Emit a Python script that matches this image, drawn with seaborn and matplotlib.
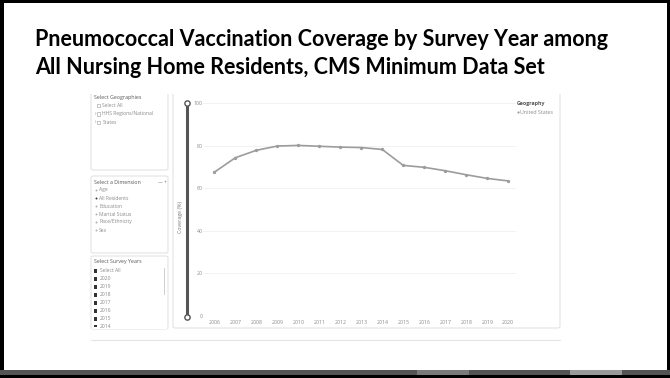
import matplotlib
matplotlib.use("Agg")
import matplotlib.pyplot as plt
from matplotlib.patches import Rectangle, FancyBboxPatch
from matplotlib.lines import Line2D
import seaborn as sns
import pandas as pd

# Survey years and coverage (%) for all nursing home residents, United States
years = [2006, 2007, 2008, 2009, 2010, 2011, 2012, 2013, 2014,
         2015, 2016, 2017, 2018, 2019, 2020]
coverage = [67.6, 74.4, 77.9, 79.9, 80.2, 79.8, 79.4, 79.2, 78.3,
            70.8, 69.9, 68.3, 66.4, 64.7, 63.5]
y_ticks = [0, 20, 40, 60, 80, 100]

title_lines = ["Pneumococcal Vaccination Coverage by Survey Year among",
               "All Nursing Home Residents, CMS Minimum Data Set"]
geo_items = ["Select All", "HHS Regions/National", "States"]
dimension_items = ["Age", "All Residents", "Education", "Marital Status",
                   "Race/Ethnicity", "Sex"]
year_items = ["Select All", "2020", "2019", "2018", "2017", "2016", "2015", "2014"]

df = pd.DataFrame({"Survey Year": years, "Coverage": coverage,
                   "Geography": ["United States"] * len(years)})

sns.set_theme(style="white")
plt.rcParams["font.family"] = ["Open Sans", "DejaVu Sans"]

W, H = 670, 378
fig = plt.figure(figsize=(W / 100, H / 100), dpi=100)
fig.patch.set_facecolor("white")


def fx(px):
    return px / W


def fy(py):
    return 1 - py / H


def rect(x0, y0, x1, y1, color, z=0, **kw):
    fig.patches.append(Rectangle((fx(x0), fy(y1)), fx(x1) - fx(x0), fy(y0) - fy(y1),
                                 transform=fig.transFigure, facecolor=color,
                                 edgecolor="none", zorder=z, **kw))


def panel(x0, y0, x1, y1):
    fig.patches.append(FancyBboxPatch((fx(x0), fy(y1)), fx(x1) - fx(x0), fy(y0) - fy(y1),
                                      boxstyle="round,pad=0,rounding_size=0.004",
                                      transform=fig.transFigure, facecolor="white",
                                      edgecolor="#e3e3e3", linewidth=0.8, zorder=1))


def hline(x0, x1, y, color, lw):
    fig.add_artist(Line2D([fx(x0), fx(x1)], [fy(y), fy(y)], transform=fig.transFigure,
                          color=color, linewidth=lw, zorder=2))


def dot(x, y, size, face, edge="none", ew=0.0, z=4):
    fig.add_artist(Line2D([fx(x)], [fy(y)], transform=fig.transFigure, marker="o",
                          markersize=size, markerfacecolor=face, markeredgecolor=edge,
                          markeredgewidth=ew, linestyle="none", zorder=z))


# Slide frame
rect(0, 0, W, 2.5, "black", z=5)
rect(0, 0, 4, H, "black", z=5)
rect(667, 0, W, H, "black", z=5)
rect(0, 370, W, 375, "#545454", z=5)
rect(417, 370, 469, 375, "#7a7a7a", z=5)
rect(570, 370, 622, 375, "#9a9a9a", z=5)
rect(0, 375, W, H, "black", z=5)

# Slide title
for line, yy in zip(title_lines, (40, 68)):
    fig.text(fx(35), fy(yy), line, fontsize=15.5, fontweight="bold",
             color="black", va="center", ha="left", family=["Lato", "DejaVu Sans"])

# Filter panels and chart card
panel(91, 92, 168, 170)
panel(91, 176, 168, 253)
panel(91, 256, 168, 329)
panel(173, 92, 560, 328)
hline(91, 560, 339.5, "#e4e4e4", 0.8)
# white band hides the panel tops cut by the screenshot
rect(86, 86, 565, 94, "white", z=3)

small = dict(fontsize=3.6, color="#8a8a8a", va="center", ha="left", zorder=4)
fig.text(fx(94), fy(97), "Select Geographies", fontsize=3.8, color="#555555",
         va="center", ha="left", zorder=4)
for i, item in enumerate(geo_items):
    yy = 105.7 + i * 8.3
    if i > 0:
        fig.text(fx(94.5), fy(yy), "›", **small)
    fig.patches.append(Rectangle((fx(97), fy(yy + 1.6)), fx(3.2), 3.2 / H,
                                 transform=fig.transFigure, facecolor="white",
                                 edgecolor="#9a9a9a", linewidth=0.4, zorder=4))
    fig.text(fx(102.5), fy(yy), item, **small)

fig.text(fx(94), fy(182.3), "Select a Dimension", fontsize=3.8, color="#555555",
         va="center", ha="left", zorder=4)
fig.text(fx(157.5), fy(182.3), "— +", fontsize=3.4, color="#777777",
         va="center", ha="left", zorder=4)
for i, item in enumerate(dimension_items):
    yy = 190 + i * 8
    dot(96, yy, 1.4, "#333333" if item == "All Residents" else "#b0b0b0")
    fig.text(fx(99), fy(yy), item, **small)

fig.text(fx(94), fy(261.7), "Select Survey Years", fontsize=3.8, color="#555555",
         va="center", ha="left", zorder=4)
for i, item in enumerate(year_items):
    yy = 271 + i * 8
    fig.patches.append(Rectangle((fx(94), fy(yy + 1.7)), fx(3.4), 3.4 / H,
                                 transform=fig.transFigure, facecolor="#333333",
                                 edgecolor="none", zorder=4))
    fig.text(fx(100), fy(yy), item, **small)
rect(163.5, 267.5, 165, 294.5, "#d0d0d0", z=4)
rect(92, 326.5, 167, 329, "white", z=4)

# Vertical range slider beside the chart
slider_x = 186.7
fig.add_artist(Line2D([fx(slider_x)] * 2, [fy(103), fy(316.5)], transform=fig.transFigure,
                      color="#555555", linewidth=2.2, zorder=4))
for yy in (103, 316.5):
    dot(slider_x, yy, 3.8, "white", "#555555", 1.0, z=5)

# Line chart
ax = fig.add_axes([fx(203), fy(316), fx(516) - fx(203), fy(103.3) - fy(316)])
ax.set_zorder(6)
sns.lineplot(data=df, x="Survey Year", y="Coverage", ax=ax, color="#9c9c9c",
             linewidth=1.2, marker="o", markersize=2.4, markeredgewidth=0,
             legend=False)
ax.set_xlim(2005.46, 2020.37)
ax.set_ylim(0, 100)
ax.set_xticks(years)
ax.set_xticklabels([str(y) for y in years])
ax.set_yticks(y_ticks)
ax.tick_params(axis="both", length=0, labelsize=3.8, labelcolor="#8a8a8a")
ax.tick_params(axis="x", pad=2.6)
ax.tick_params(axis="y", pad=0.3)
ax.grid(axis="y", color="#f0f0f0", linewidth=0.6)
ax.set_axisbelow(True)
for s in ax.spines.values():
    s.set_visible(False)
ax.set_xlabel("")
ax.set_ylabel("")
ax.patch.set_alpha(0)

fig.text(fx(180.5), fy(217), "Coverage (%)", rotation=90, fontsize=3.8,
         color="#777777", va="center", ha="center", zorder=4)

# Legend
fig.text(fx(516.5), fy(103.3), "Geography", fontsize=3.8, fontweight="bold",
         color="#555555", va="center", ha="left", zorder=7)
dot(518.3, 112.3, 1.6, "#a0a0a0", z=7)
fig.text(fx(520.5), fy(112.3), "United States", fontsize=3.8, color="#8a8a8a",
         va="center", ha="left", zorder=7)

fig.savefig("out.png", dpi=100)
